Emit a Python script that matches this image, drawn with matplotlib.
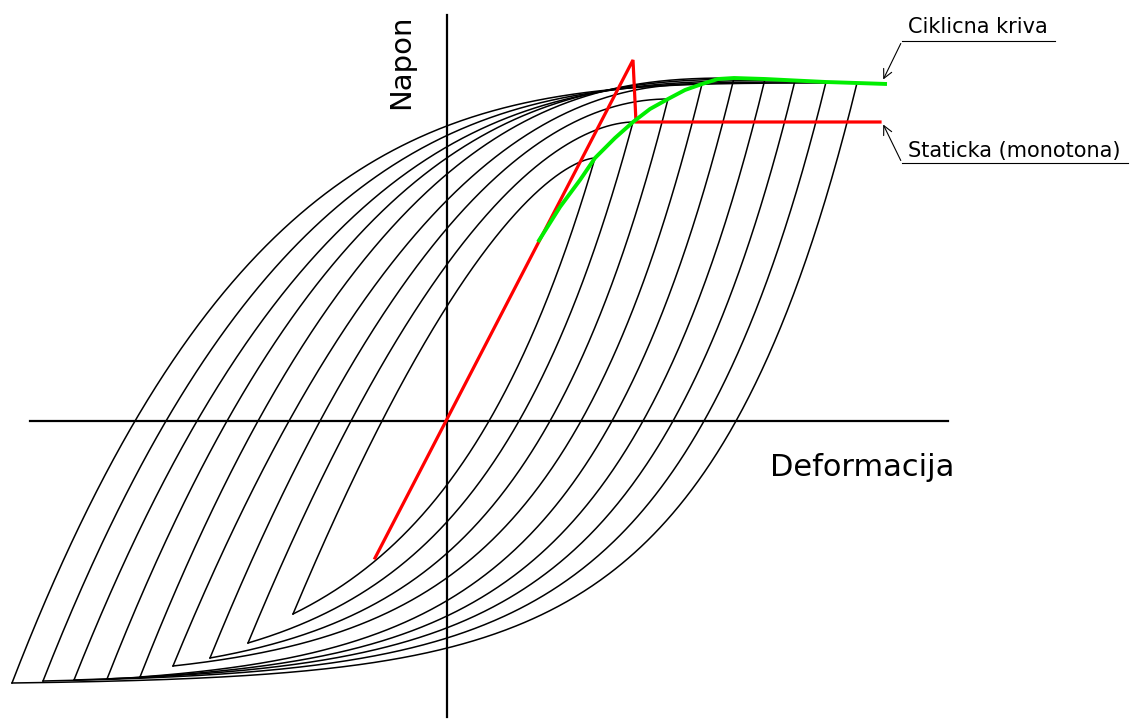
import numpy as np
import matplotlib.pyplot as plt

# turning points of the hysteresis loops (strain, stress), outermost loop first
low_x = [-4.35, -4.04, -3.73, -3.40, -3.07, -2.74, -2.37, -1.99, -1.54]
low_y = [-2.62, -2.60, -2.59, -2.58, -2.56, -2.45, -2.37, -2.22, -1.93]
top_x = [4.10, 3.79, 3.48, 3.18, 2.87, 2.55, 2.21, 1.86, 1.48]
top_y = [3.38, 3.39, 3.405, 3.42, 3.43, 3.37, 3.22, 2.99, 2.63]
# where the loading / unloading branch of each loop crosses the strain axis
load_cross = [-3.12, -2.81, -2.50, -2.20, -1.89, -1.58, -1.27, -0.96, -0.65]
unload_cross = [2.89, 2.57, 2.26, 1.96, 1.65, 1.34, 1.03, 0.72, 0.42]

# cyclic curve (green)
cyc_x = [0.91, 1.13, 1.33, 1.48, 1.68, 1.86, 2.03, 2.21, 2.38, 2.55, 2.71, 2.87,
         3.18, 3.48, 3.79, 4.10, 4.40]
cyc_y = [1.79, 2.14, 2.41, 2.63, 2.83, 2.99, 3.12, 3.22, 3.31, 3.37, 3.42, 3.43,
         3.42, 3.405, 3.39, 3.38, 3.37]

# static monotonic curve (red)
mono_x = [-0.72, 1.86, 1.89, 4.33]
mono_y = [-1.37, 3.61, 2.99, 2.99]


def exp_k(tc, sc):
    # rate k so that expm1(k*tc)/expm1(k) == sc
    lo, hi = 1e-6, 40.0
    for _ in range(100):
        mid = (lo + hi) / 2
        if np.expm1(mid * tc) / np.expm1(mid) > sc:
            lo = mid
        else:
            hi = mid
    return mid


fig = plt.figure(figsize=(11.31, 7.19), dpi=100)
ax = fig.add_axes([0, 0, 1, 1])
ax.set_xlim(-4.47, 6.84)
ax.set_ylim(-2.98, 4.21)
ax.axis('off')

# axes of the diagram
ax.plot([-4.17, 5.01], [0, 0], color='black', lw=1.6)
ax.plot([0, 0], [-2.96, 4.06], color='black', lw=1.6)

t = np.linspace(0, 1, 400)
for xl, yl, xu, yu, xa, xb in zip(low_x, low_y, top_x, top_y, load_cross, unload_cross):
    dx, dy = xu - xl, yu - yl
    # loading branch: steep from the lower tip, flat into the upper tip
    p = np.log(1 + yl / dy) / np.log(1 - (xa - xl) / dx)
    ax.plot(xl + t * dx, yl + (1 - (1 - t) ** p) * dy, color='black', lw=1.1)
    # unloading branch: steep from the upper tip, flat into the lower tip
    k = exp_k((xb - xl) / dx, -yl / dy)
    ax.plot(xl + t * dx, yl + np.expm1(k * t) / np.expm1(k) * dy, color='black', lw=1.1)

ax.plot(mono_x, mono_y, color='#ff0000', lw=2.3, solid_joinstyle='miter')
ax.plot(cyc_x, cyc_y, color='#00ee00', lw=2.8, solid_capstyle='butt')

# labels
ax.text(3.23, -0.55, 'Deformacija', fontsize=22, ha='left', va='baseline')
ax.text(-0.46, 3.59, 'Napon', fontsize=21, rotation=90, ha='center', va='center')

ax.text(4.61, 3.88, 'Ciklicna kriva', fontsize=15, ha='left', va='baseline')
ax.plot([4.55, 6.08], [3.80, 3.80], color='black', lw=0.8)
ax.annotate('', xy=(4.35, 3.39), xytext=(4.55, 3.80),
            arrowprops=dict(arrowstyle='->', lw=0.8, color='black', mutation_scale=16))

ax.text(4.61, 2.64, 'Staticka (monotona)', fontsize=15, ha='left', va='baseline')
ax.plot([4.55, 6.81], [2.58, 2.58], color='black', lw=0.8)
ax.annotate('', xy=(4.35, 2.99), xytext=(4.55, 2.58),
            arrowprops=dict(arrowstyle='->', lw=0.8, color='black', mutation_scale=16))

plt.savefig('out.png', dpi=100)
